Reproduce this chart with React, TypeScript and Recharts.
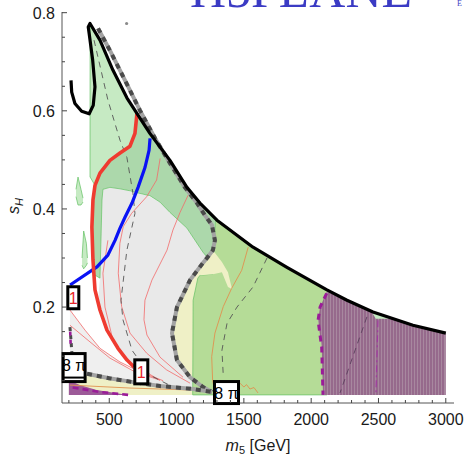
import React from 'react';
import { ComposedChart, XAxis, YAxis, Area, Line, ReferenceDot } from 'recharts';

const W = 466;
const H = 458;
const FONT = '"Liberation Sans", Arial, Helvetica, sans-serif';
const SERIF = '"Liberation Serif", "Times New Roman", serif';

const X_DOMAIN: [number, number] = [149, 3061];
const Y_DOMAIN: [number, number] = [0.0045, 0.8014];

const xMajor = [500, 1000, 1500, 2000, 2500, 3000];
const xTicks = Array.from({ length: 29 }, (_, i) => 200 + i * 100);
const yMajor = [0.2, 0.4, 0.6, 0.8];
const yTicks = Array.from({ length: 16 }, (_, i) => +(0.05 * (i + 1)).toFixed(2));

type Pt = [number, number];
type Band = [number, number, number]; // [m5, lower sH, upper sH]

// ---- contours [m5, sH] ----
const outerContour: Pt[] = [
  [216, 0.662], [221, 0.638], [245, 0.615], [295, 0.599], [351, 0.594], [381, 0.611],
  [394, 0.649], [377, 0.703], [351, 0.757], [344, 0.771], [357, 0.778], [431, 0.744],
  [527, 0.683], [632, 0.626], [802, 0.554], [951, 0.499], [1077, 0.444], [1174, 0.412],
  [1300, 0.377], [1568, 0.322], [1820, 0.281], [2117, 0.235], [2266, 0.214],
  [2459, 0.19], [2756, 0.163], [3000, 0.147],
];
const thickDashed: Pt[] = [
  [417, 0.768], [505, 0.723], [617, 0.662], [728, 0.601], [840, 0.544], [951, 0.493],
  [1062, 0.444], [1152, 0.412], [1211, 0.387], [1263, 0.367], [1285, 0.336],
  [1270, 0.316], [1226, 0.3], [1196, 0.29], [1100, 0.255], [1003, 0.2], [966, 0.147],
  [1003, 0.092], [1100, 0.057], [1196, 0.037], [1263, 0.027],
];
const bottomDashed: Pt[] = [
  [335, 0.064], [500, 0.055], [677, 0.047], [877, 0.039], [1123, 0.033], [1263, 0.027],
];
const leftDashed: Pt[] = [[208, 0.159], [215, 0.135], [222, 0.108]];
const redThick: Pt[] = [
  [706, 0.595], [691, 0.554], [654, 0.528], [580, 0.514], [505, 0.499], [431, 0.473],
  [394, 0.448], [379, 0.418], [371, 0.363], [379, 0.296], [394, 0.235], [431, 0.194],
  [483, 0.153], [565, 0.116], [632, 0.092], [684, 0.078],
];
const blueThick: Pt[] = [
  [803, 0.544], [796, 0.52], [766, 0.485], [714, 0.444], [669, 0.412], [617, 0.383],
  [580, 0.361], [543, 0.336], [490, 0.306], [409, 0.282], [209, 0.245],
];
const redThin1: Pt[] = [
  [878, 0.503], [852, 0.459], [778, 0.425], [666, 0.391], [604, 0.364], [579, 0.33],
  [567, 0.269], [592, 0.201], [654, 0.147], [778, 0.106], [926, 0.072], [1100, 0.045],
];
const redThin2: Pt[] = [
  [1086, 0.428], [1026, 0.393], [973, 0.357], [929, 0.316], [817, 0.255], [765, 0.214],
  [758, 0.174], [780, 0.143], [877, 0.098], [1048, 0.057],
];
const redThin3: Pt[] = [[490, 0.336], [453, 0.269], [468, 0.2], [527, 0.133], [654, 0.086], [877, 0.051]];
const redThin4: Pt[] = [[208, 0.194], [320, 0.153], [431, 0.116], [580, 0.088], [728, 0.068], [900, 0.05]];
const redThin5: Pt[] = [[208, 0.163], [357, 0.129], [505, 0.096], [691, 0.068], [877, 0.051]];
const orange1: Pt[] = [
  [1532, 0.322], [1484, 0.275], [1409, 0.238], [1347, 0.201], [1285, 0.147],
  [1261, 0.099], [1268, 0.051], [1285, 0.025],
];
const orange2: Pt[] = [[1471, 0.045], [1500, 0.037], [1520, 0.042], [1545, 0.033], [1575, 0.036], [1605, 0.025]];
const orange3: Pt[] = [[208, 0.041], [654, 0.035], [1100, 0.031]];
const greyDash1: Pt[] = [
  [387, 0.744], [490, 0.622], [580, 0.54], [631, 0.505], [676, 0.432], [691, 0.391],
  [631, 0.316], [587, 0.214], [602, 0.174], [669, 0.112], [803, 0.061], [989, 0.035],
];
const greyDash2: Pt[] = [[1672, 0.3], [1568, 0.241], [1449, 0.2], [1375, 0.167], [1337, 0.112], [1346, 0.066]];
const greyDash3: Pt[] = [[2414, 0.18], [2214, 0.025]];
const purpleEdge: Pt[] = [[2115, 0.228], [2066, 0.2], [2051, 0.173], [2078, 0.118], [2088, 0.021]];
const purpleDashDot: Pt[] = [[2496, 0.173], [2481, 0.022]];
const magentaLow: Pt[] = [[228, 0.036], [431, 0.027], [640, 0.021]];
const magentaStub: Pt[] = [[210, 0.15], [214, 0.118]];

// ---- filled regions [m5, lower, upper] ----
const paleStrip: Band[] = [
  [200, 0.021, 0.064], [335, 0.021, 0.064], [500, 0.021, 0.055], [677, 0.021, 0.047],
  [877, 0.021, 0.039], [1123, 0.021, 0.033], [1263, 0.021, 0.027], [1285, 0.021, 0.021],
];
const purpleLow: Band[] = [[200, 0.021, 0.051], [282, 0.021, 0.041], [406, 0.021, 0.031], [639, 0.021, 0.021]];
const greyCore: Band[] = [
  [416, 0.21, 0.21], [431, 0.194, 0.259], [446, 0.18, 0.418], [453, 0.174, 0.44],
  [483, 0.153, 0.442], [505, 0.143, 0.444], [565, 0.116, 0.442], [632, 0.092, 0.438],
  [684, 0.078, 0.433], [691, 0.047, 0.432], [780, 0.043, 0.428], [877, 0.039, 0.414],
  [951, 0.037, 0.393], [1077, 0.034, 0.361], [1196, 0.03, 0.312], [1226, 0.03, 0.302],
  [1230, 0.03, 0.034], [1263, 0.027, 0.027],
];
const greyLow: Band[] = [
  [208, 0.064, 0.194], [320, 0.062, 0.153], [431, 0.058, 0.116], [580, 0.05, 0.088],
  [684, 0.047, 0.068], [700, 0.047, 0.05],
];
const lightGreen: Band[] = [
  [357, 0.465, 0.465], [358, 0.465, 0.775], [394, 0.448, 0.761], [431, 0.473, 0.744],
  [505, 0.499, 0.697], [580, 0.514, 0.655], [654, 0.528, 0.617], [691, 0.554, 0.601],
  [706, 0.595, 0.595],
];
const midGreen: Band[] = [
  [379, 0.265, 0.418], [394, 0.265, 0.448], [431, 0.259, 0.473], [446, 0.418, 0.478],
  [453, 0.44, 0.481], [505, 0.444, 0.499], [580, 0.441, 0.514], [654, 0.437, 0.528],
  [691, 0.434, 0.554], [706, 0.433, 0.595], [802, 0.427, 0.554], [877, 0.414, 0.526],
  [951, 0.393, 0.499], [1077, 0.361, 0.444], [1174, 0.321, 0.412], [1196, 0.312, 0.406],
  [1226, 0.302, 0.396], [1270, 0.316, 0.384], [1285, 0.336, 0.38],
];
const paleInside: Band[] = [
  [966, 0.147, 0.147], [1003, 0.092, 0.2], [1050, 0.072, 0.23], [1100, 0.057, 0.255],
  [1150, 0.046, 0.275], [1196, 0.037, 0.29], [1226, 0.032, 0.3], [1263, 0.027, 0.318],
  [1285, 0.021, 0.336],
];
const yellowGreen: Band[] = [
  [1120, 0.021, 0.021], [1123, 0.021, 0.214], [1158, 0.021, 0.259], [1175, 0.021, 0.265],
  [1270, 0.021, 0.267], [1290, 0.021, 0.38], [1300, 0.021, 0.377], [1568, 0.021, 0.322],
  [1820, 0.021, 0.281], [2117, 0.021, 0.235],
];
const palePatch: Band[] = [
  [1175, 0.265, 0.286], [1270, 0.267, 0.316], [1337, 0.271, 0.292], [1382, 0.241, 0.271], [1412, 0.237, 0.237],
];
const purpleMain: Band[] = [
  [2051, 0.173, 0.173], [2066, 0.142, 0.2], [2078, 0.118, 0.207], [2088, 0.021, 0.214],
  [2117, 0.021, 0.232], [2266, 0.021, 0.214], [2459, 0.021, 0.19], [2756, 0.021, 0.163],
  [3000, 0.021, 0.147],
];
const greenNotch: Band[] = [[2459, 0.186, 0.19], [2480, 0.176, 0.188], [2586, 0.176, 0.178]];
const sliverA: Band[] = [[253, 0.425, 0.44], [268, 0.408, 0.465], [290, 0.408, 0.44], [305, 0.414, 0.422]];
const sliverB: Band[] = [[298, 0.285, 0.3], [310, 0.278, 0.355], [330, 0.285, 0.33], [338, 0.29, 0.3]];

// boxed contour labels
const boxLabels = [
  { x: 233, y: 0.219, text: '1', color: '#e8262a', w: 11, h: 22, split: 0 },
  { x: 738, y: 0.068, text: '1', color: '#e8262a', w: 13, h: 24, split: 0 },
  { x: 239, y: 0.0767, text: '8 π', color: '#000', w: 22, h: 28, split: 10 },
  { x: 1371, y: 0.0258, text: '8 π', color: '#000', w: 24, h: 22, split: 0 },
];

const toLine = (pts: Pt[]) => pts.map(([x, y]) => ({ x, y }));
const toBand = (rows: Band[]) => rows.map(([x, lo, hi]) => ({ x, r: [lo, hi] }));

const isMajorX = (v: number) => xMajor.includes(v);
const isMajorY = (v: number) => yMajor.some((m) => Math.abs(m - v) < 1e-6);
const TICK = '#444';

const BottomTick = ({ x, y, payload }: any) => {
  const major = isMajorX(payload.value);
  return (
    <g>
      <line x1={x} x2={x} y1={y} y2={y - (major ? 5 : 3)} stroke={TICK} />
      {major && (
        <text x={x} y={y + 22} textAnchor="middle" fontSize={16} fontFamily={FONT} fill="#1a1a1a">
          {payload.value}
        </text>
      )}
    </g>
  );
};
const TopTick = ({ x, y, payload }: any) => (
  <line x1={x} x2={x} y1={y} y2={y + (isMajorX(payload.value) ? 5 : 3)} stroke={TICK} />
);
const LeftTick = ({ x, y, payload }: any) => {
  const major = isMajorY(payload.value);
  return (
    <g>
      <line x1={x} x2={x + (major ? 5 : 3)} y1={y} y2={y} stroke={TICK} />
      {major && (
        <text x={x - 7} y={y + 6} textAnchor="end" fontSize={16} fontFamily={FONT} fill="#1a1a1a">
          {payload.value.toFixed(1)}
        </text>
      )}
    </g>
  );
};
const RightTick = ({ x, y, payload }: any) => (
  <line x1={x} x2={x - (isMajorY(payload.value) ? 5 : 3)} y1={y} y2={y} stroke={TICK} />
);

const region = (rows: Band[], fill: string, stroke = 'none', key = '') => (
  <Area
    key={key}
    data={toBand(rows)}
    dataKey="r"
    type="linear"
    fill={fill}
    fillOpacity={1}
    stroke={stroke}
    strokeWidth={0.7}
    dot={false}
    activeDot={false}
    isAnimationActive={false}
  />
);

const curve = (pts: Pt[], stroke: string, width: number, dash?: string, key = '') => (
  <Line
    key={key}
    data={toLine(pts)}
    dataKey="y"
    type="linear"
    stroke={stroke}
    strokeWidth={width}
    strokeDasharray={dash}
    strokeLinejoin="round"
    dot={false}
    activeDot={false}
    isAnimationActive={false}
  />
);

const BoxShape = ({ cx, cy, label }: any) => {
  const { w, h, text, color, split } = label;
  return (
    <g>
      <rect x={cx - w / 2} y={cy - h / 2} width={w} height={h} fill="#fff" stroke="#000" strokeWidth={3} />
      {split > 0 && <line x1={cx - w / 2} x2={cx + w / 2} y1={cy + split} y2={cy + split} stroke="#000" strokeWidth={2} />}
      <text x={cx} y={cy + (split > 0 ? 3 : 6)} textAnchor="middle" fontSize={16} fontFamily={FONT} fill={color}>
        {text}
      </text>
    </g>
  );
};

const GREEN_EDGE = '#62c062';

export default function App() {
  return (
    <div style={{ position: 'absolute', left: 0, top: 0, width: W, height: H, background: '#fff', overflow: 'hidden' }}>
      <ComposedChart width={W} height={H} margin={{ top: 12, right: 12, bottom: 25, left: 12 }}>
        <defs>
          <pattern id="purpleStripes" width="3" height="4" patternUnits="userSpaceOnUse">
            <rect width="3" height="4" fill="#966a8c" />
            <rect width="1" height="4" fill="#a8889f" />
          </pattern>
        </defs>
        <XAxis
          dataKey="x"
          type="number"
          domain={X_DOMAIN}
          allowDataOverflow
          ticks={xTicks}
          interval={0}
          tickSize={0}
          tickMargin={0}
          tick={BottomTick}
          height={30}
          axisLine={{ stroke: '#555' }}
        />
        <XAxis
          xAxisId="top"
          orientation="top"
          dataKey="x"
          type="number"
          domain={X_DOMAIN}
          allowDataOverflow
          ticks={xTicks}
          interval={0}
          tickSize={0}
          tickMargin={0}
          tick={TopTick}
          height={0}
          axisLine={{ stroke: '#555' }}
        />
        <YAxis
          type="number"
          domain={Y_DOMAIN}
          allowDataOverflow
          ticks={yTicks}
          interval={0}
          tickSize={0}
          tickMargin={0}
          tick={LeftTick}
          width={50}
          axisLine={{ stroke: '#555' }}
        />
        <YAxis
          yAxisId="right"
          orientation="right"
          type="number"
          domain={Y_DOMAIN}
          allowDataOverflow
          ticks={yTicks}
          interval={0}
          tickSize={0}
          tickMargin={0}
          tick={RightTick}
          width={0}
          axisLine={{ stroke: '#777', strokeWidth: 1.5 }}
        />

        {region(paleStrip, '#eff0c6', 'none', 'ps')}
        {region(purpleLow, '#9c5a98', 'none', 'pl')}
        {region(greyCore, '#e9e9e9', 'none', 'gc')}
        {region(greyLow, '#efefef', 'none', 'gl')}
        {region(lightGreen, '#c6eac3', GREEN_EDGE, 'lg')}
        {region(midGreen, '#acd8ab', GREEN_EDGE, 'mg')}
        {region(paleInside, '#eff0c6', 'none', 'pi')}
        {region(yellowGreen, '#b5dc97', GREEN_EDGE, 'yg')}
        {region(palePatch, '#eff0c6', 'none', 'pp')}
        {region(purpleMain, 'url(#purpleStripes)', 'none', 'pm')}
        {region(greenNotch, '#c6eac3', 'none', 'gn')}
        {region(sliverA, '#c6eac3', GREEN_EDGE, 'sa')}
        {region(sliverB, '#c6eac3', GREEN_EDGE, 'sb')}

        {curve(redThin1, '#f26a6a', 0.8, undefined, 'r1')}
        {curve(redThin2, '#f26a6a', 0.8, undefined, 'r2')}
        {curve(redThin3, '#f26a6a', 0.8, undefined, 'r3')}
        {curve(redThin4, '#f26a6a', 0.8, undefined, 'r4')}
        {curve(redThin5, '#f26a6a', 0.8, undefined, 'r5')}
        {curve(orange1, '#e0914f', 0.9, undefined, 'o1')}
        {curve(orange2, '#e0914f', 0.9, undefined, 'o2')}
        {curve(orange3, '#e0914f', 0.9, undefined, 'o3')}
        {curve(greyDash1, '#555', 0.9, '6 5', 'd1')}
        {curve(greyDash2, '#555', 0.9, '6 5', 'd2')}
        {curve(greyDash3, '#5a3f5c', 0.9, '6 5', 'd3')}
        {curve(blueThick, '#0a12f5', 3.2, undefined, 'bl')}
        {curve(redThick, '#ef3b30', 3.6, undefined, 'rt')}
        {curve(thickDashed, '#a3a3a3', 4, undefined, 'tdb')}
        {curve(thickDashed, '#4a4a4a', 4, '5 5', 'tdf')}
        {curve(bottomDashed, '#a3a3a3', 4, undefined, 'bdb')}
        {curve(bottomDashed, '#4a4a4a', 4, '5 5', 'bdf')}
        {curve(leftDashed, '#4a4a4a', 3, '4 4', 'ld')}
        {curve(outerContour, '#000', 3.2, undefined, 'oc')}
        {curve(purpleEdge, '#9a1c98', 3, '6 5', 'pe')}
        {curve(purpleDashDot, '#a03aa0', 1.2, '7 3 2 3', 'pd')}
        {curve(magentaLow, '#9a1c98', 2.6, '6 4', 'ml')}
        {curve(magentaStub, '#9a1c98', 2.6, '4 4', 'ms')}

        <Line
          xAxisId="top"
          yAxisId="right"
          data={toLine(outerContour)}
          dataKey="y"
          stroke="none"
          dot={false}
          activeDot={false}
          isAnimationActive={false}
        />

        <ReferenceDot x={629} y={0.778} r={1.6} fill="#8a8a8a" stroke="none" />
        {boxLabels.map((b, i) => (
          <ReferenceDot key={i} x={b.x} y={b.y} r={1} shape={(p: any) => <BoxShape {...p} label={b} />} />
        ))}
      </ComposedChart>

      <svg width={W} height={H} style={{ position: 'absolute', left: 0, top: 0, pointerEvents: 'none' }}>
        <text x={190} y={7} fontFamily={SERIF} fontSize={50} fill="#3b3bc4" textLength={222} lengthAdjust="spacingAndGlyphs">
          H5PLANE
        </text>
        <text x={457} y={6} fontFamily={SERIF} fontSize={8} fill="#3b3bc4">E</text>
        <text transform="translate(19,206) rotate(-90)" textAnchor="middle" fontSize={16} fontFamily={FONT} fill="#1a1a1a">
          <tspan fontStyle="italic">s</tspan>
          <tspan fontStyle="italic" fontSize={11} dy={4}>H</tspan>
        </text>
        <text x={258} y={451} textAnchor="middle" fontSize={16} fontFamily={FONT} fill="#1a1a1a">
          <tspan fontStyle="italic">m</tspan>
          <tspan fontSize={11} dy={3}>5</tspan>
          <tspan dy={-3}> [GeV]</tspan>
        </text>
      </svg>
    </div>
  );
}
